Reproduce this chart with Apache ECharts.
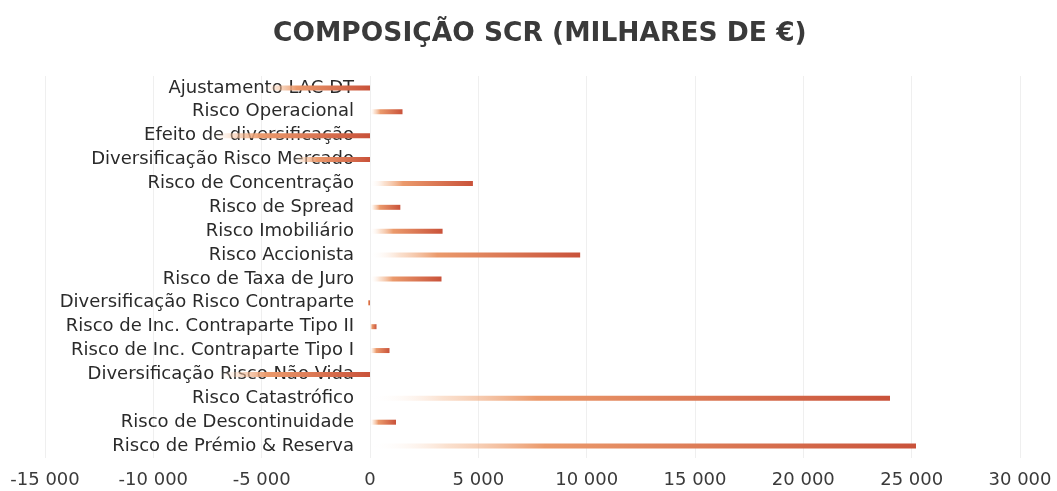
<!DOCTYPE html>
<html>
<head>
<meta charset="utf-8">
<script src="https://cdn.jsdelivr.net/npm/echarts@6/dist/echarts.min.js"></script>
<style>
html,body{margin:0;padding:0;background:#fff;}
#chart{width:1057px;height:491px;}
</style>
</head>
<body>
<div id="chart"></div>
<script>
const titleText = 'COMPOSIÇÃO SCR (MILHARES DE €)';
const categories = [
  'Ajustamento LAC DT',
  'Risco Operacional',
  'Efeito de diversificação',
  'Diversificação Risco Mercado',
  'Risco de Concentração',
  'Risco de Spread',
  'Risco Imobiliário',
  'Risco Accionista',
  'Risco de Taxa de Juro',
  'Diversificação Risco Contraparte',
  'Risco de Inc. Contraparte Tipo II',
  'Risco de Inc. Contraparte Tipo I',
  'Diversificação Risco Não Vida',
  'Risco Catastrófico',
  'Risco de Descontinuidade',
  'Risco de Prémio & Reserva'
];
const values = [
  -5000, 1500, -7400, -3600, 4750, 1400, 3350, 9700,
  3300, -100, 300, 900, -7000, 24000, 1200, 25200
];
const xMin = -15000;
const xMax = 30000;
const xStep = 5000;

function fmt(v) {
  const s = String(Math.abs(v)).replace(/\B(?=(\d{3})+(?!\d))/g, ' ');
  return (v < 0 ? '-' : '') + s;
}

const gridLeft = 45, gridRight = 37;
const plotW = 1057 - gridLeft - gridRight;
// place the category axis at value 0 of the value axis
const zeroOffset = -plotW * (0 - xMin) / (xMax - xMin);

const chart = echarts.init(document.getElementById('chart'), null, {renderer: 'canvas'});
const grad = new echarts.graphic.LinearGradient(0, 0, 1, 0, [
  {offset: 0, color: 'rgba(255,255,255,0)'},
  {offset: 0.14, color: 'rgba(246,195,160,0.5)'},
  {offset: 0.32, color: '#eb9a6c'},
  {offset: 1, color: '#c9523a'}
]);
chart.setOption({
  animation: false,
  backgroundColor: '#ffffff',
  title: {
    text: titleText,
    left: 268,
    top: 16,
    textStyle: {
      fontFamily: 'DejaVu Sans',
      fontSize: 26.5,
      fontWeight: 'bold',
      color: '#3a3a3a'
    }
  },
  grid: {left: gridLeft, right: gridRight, top: 76, bottom: 33, containLabel: false, outerBoundsMode: 'none'},
  xAxis: {
    type: 'value',
    min: xMin,
    max: xMax,
    interval: xStep,
    axisLine: {show: false},
    axisTick: {show: false},
    splitLine: {show: true, lineStyle: {color: '#efefef', width: 1}},
    axisLabel: {
      margin: 13,
      hideOverlap: false,
      showMinLabel: true,
      showMaxLabel: true,
      fontFamily: 'DejaVu Sans',
      fontSize: 18,
      color: '#3a3a3a',
      formatter: fmt
    }
  },
  yAxis: {
    type: 'category',
    inverse: true,
    data: categories,
    position: 'left',
    offset: zeroOffset,
    axisLine: {show: false, onZero: false},
    axisTick: {show: false},
    splitLine: {show: false},
    axisLabel: {
      interval: 0,
      hideOverlap: false,
      margin: 16,
      fontFamily: 'DejaVu Sans',
      fontSize: 18,
      color: '#2a2a2a'
    }
  },
  series: [{
    type: 'bar',
    data: values,
    barWidth: 5,
    itemStyle: {color: grad}
  }]
});
</script>
</body>
</html>
